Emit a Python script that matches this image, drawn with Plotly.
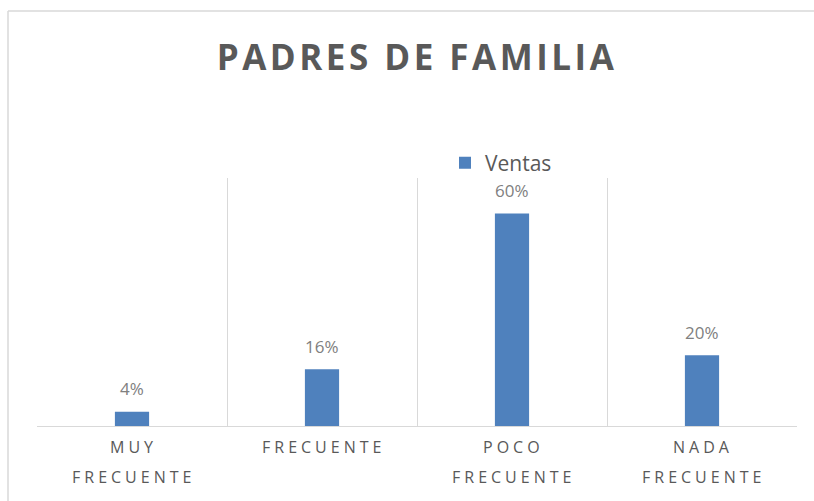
import plotly.graph_objects as go

categories = ["MUY FRECUENTE", "FRECUENTE", "POCO FRECUENTE", "NADA FRECUENTE"]
label_lines = [["MUY", "FRECUENTE"], ["FRECUENTE"], ["POCO", "FRECUENTE"], ["NADA", "FRECUENTE"]]
values = [0.04, 0.16, 0.60, 0.20]
value_labels = ["4%", "16%", "60%", "20%"]
series_name = "Ventas"
title_text = "PADRES DE FAMILIA"

FONT = "Open Sans"
BLUE = "#4f81bd"
DARK = "#595959"
GRID = "#d9d9d9"

W, H = 814, 501
PL, PR, PT, PB = 37, 797, 178, 426
PW, PH = PR - PL, PB - PT

fig = go.Figure()
fig.add_trace(go.Bar(
    x=categories, y=values, name=series_name, width=0.18,
    marker=dict(color=BLUE, line=dict(width=0)),
    showlegend=True, hoverinfo="skip",
))

annotations = []
for cat, v, t in zip(categories, values, value_labels):
    annotations.append(dict(
        x=cat, y=v, xref="x", yref="y", text=t, showarrow=False,
        yanchor="middle", yshift=23,
        font=dict(family=FONT, size=17, color="#808080"),
    ))

for cat, lines in zip(categories, label_lines):
    shifts = [-21] if len(lines) == 1 else [-21, -51]
    for line, s in zip(lines, shifts):
        annotations.append(dict(
            x=cat, y=0, xref="x", yref="paper",
            text='<span style="letter-spacing:4px">' + line + '</span>',
            showarrow=False, yanchor="middle", yshift=s, xshift=1,
            font=dict(family=FONT, size=16, color=DARK),
        ))

bx0 = (8 - PL) / PW
bx1 = (840 - PL) / PW
by0 = (PB - 530) / PH
by1 = (PB - 11) / PH

fig.update_layout(
    width=W, height=H,
    margin=dict(l=PL, r=W - PR, t=PT, b=H - PB),
    paper_bgcolor="white", plot_bgcolor="white",
    title=dict(
        text='<span style="letter-spacing:3.5px"><b>' + title_text + '</b></span>',
        x=0.5, xref="paper", xanchor="center",
        y=1 - 58 / H, yref="container", yanchor="middle",
        font=dict(family=FONT, size=35, color=DARK),
    ),
    legend=dict(
        orientation="h", x=(445 - PL) / PW, xanchor="left",
        y=(PB - 163) / PH, yanchor="middle",
        font=dict(family=FONT, size=21, color=DARK),
        bgcolor="rgba(0,0,0,0)",
    ),
    xaxis=dict(
        type="category", tickson="boundaries", showgrid=True, gridcolor=GRID,
        gridwidth=1.4, showticklabels=False, ticks="", showline=True,
        linecolor=GRID, linewidth=1.4, mirror=False, zeroline=False,
    ),
    yaxis=dict(
        range=[0, 0.7], showgrid=False, showticklabels=False, zeroline=False,
        showline=False, ticks="",
    ),
    annotations=annotations,
    shapes=[
        dict(type="line", xref="paper", yref="paper", x0=bx0, x1=bx0, y0=by0, y1=by1,
             line=dict(color=GRID, width=1.5), layer="below"),
        dict(type="line", xref="paper", yref="paper", x0=bx0, x1=bx1, y0=by1, y1=by1,
             line=dict(color=GRID, width=1.5), layer="below"),
    ],
)

fig.write_html(
    "out.html",
    config={"displayModeBar": False},
    post_script="document.body.style.margin='0';document.body.style.overflow='hidden';",
)
